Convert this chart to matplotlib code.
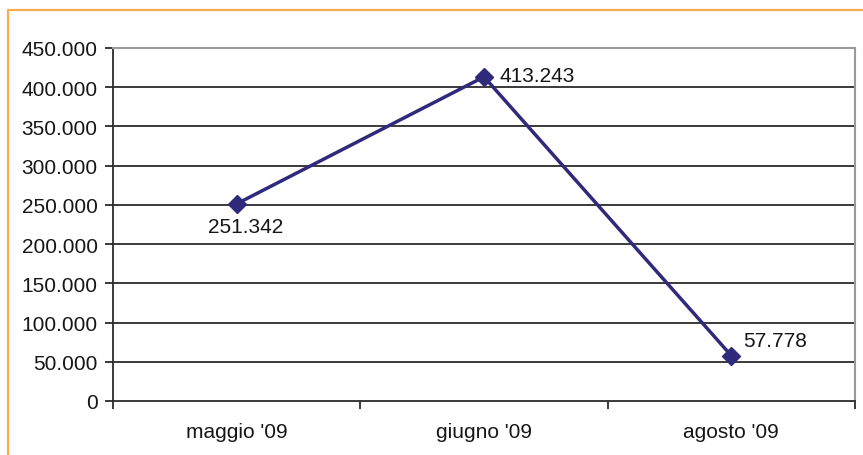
import matplotlib
matplotlib.use("Agg")
import matplotlib.pyplot as plt
from matplotlib.lines import Line2D
from matplotlib.ticker import FuncFormatter, FixedLocator

plt.rcParams['font.family'] = ['Liberation Sans', 'DejaVu Sans']

months = ["maggio '09", "giugno '09", "agosto '09"]
values = [251342, 413243, 57778]
# label offsets from each point, in points, and horizontal alignment
label_offsets = [(6.5, -16), (11, 1), (8.5, 11)]
label_align = ['center', 'left', 'left']
y_ticks = [0, 50000, 100000, 150000, 200000, 250000, 300000, 350000, 400000, 450000]


def it_thousands(v, pos=None):
    return f"{int(round(v)):,}".replace(",", ".")


W, H = 863, 456
fig = plt.figure(figsize=(W / 100, H / 100), dpi=100)
fig.patch.set_facecolor('white')

ax = fig.add_axes([113 / W, 1 - 402 / H, (855 - 113) / W, (402 - 49) / H])
ax.set_xlim(-0.5, len(months) - 0.5)
ax.set_ylim(0, 450000)

# horizontal gridlines
for t in y_ticks[1:-1]:
    ax.axhline(t, color='#2b2b2b', lw=1.3, zorder=1)

x = list(range(len(months)))
ax.plot(x, values, color='#302a7c', lw=2.5, marker='D', markersize=9,
        markerfacecolor='#302a7c', markeredgecolor='#302a7c', zorder=3,
        clip_on=False)

for xi, v, off, ha in zip(x, values, label_offsets, label_align):
    ax.annotate(it_thousands(v), (xi, v), xytext=off, textcoords='offset points',
                ha=ha, va='center', fontsize=15, color='#161616')

ax.yaxis.set_major_locator(FixedLocator(y_ticks))
ax.yaxis.set_major_formatter(FuncFormatter(it_thousands))
ax.set_xticks(x)
ax.set_xticklabels(months)
ax.xaxis.set_minor_locator(FixedLocator([i - 0.5 for i in range(len(months) + 1)]))
ax.tick_params(axis='x', which='major', length=0, pad=15, labelsize=15, colors='#161616')
ax.tick_params(axis='x', which='minor', length=6, width=1.3, direction='out', color='#2b2b2b')
ax.tick_params(axis='y', length=6, width=1.3, direction='out', pad=5, labelsize=15,
               color='#2b2b2b', labelcolor='#161616')

for side in ('left', 'bottom'):
    ax.spines[side].set_color('#2b2b2b')
    ax.spines[side].set_linewidth(1.3)
for side in ('top', 'right'):
    ax.spines[side].set_color('#9a9a9a')
    ax.spines[side].set_linewidth(1.5)

# orange frame around the chart
frame_color = '#f9aa4c'
fig.add_artist(Line2D([8 / W, 8 / W, 1.0], [0.0, 1 - 11 / H, 1 - 11 / H],
                      transform=fig.transFigure, color=frame_color, lw=1.6))

fig.savefig('out.png', dpi=100)
